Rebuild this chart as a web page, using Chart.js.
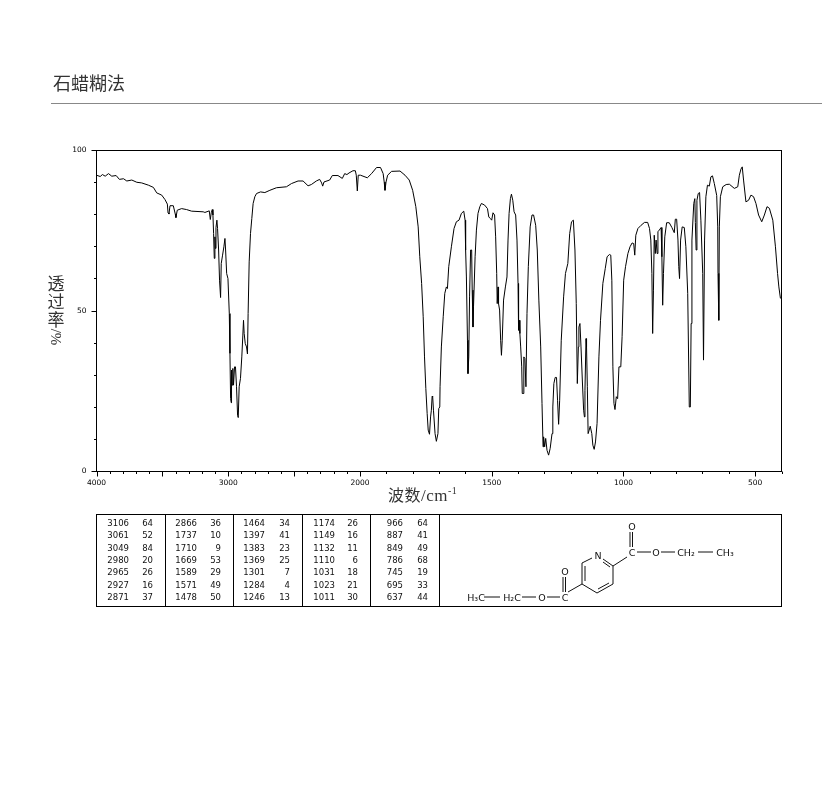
<!DOCTYPE html>
<html>
<head>
<meta charset="utf-8">
<title>石蜡糊法</title>
<script src="https://cdn.jsdelivr.net/npm/chart.js@4"></script>
<style>
  html, body { margin: 0; padding: 0; background: #fff; overflow: hidden; }
  #page { position: relative; width: 822px; height: 794px; overflow: hidden; }
  #page canvas { position: absolute; left: 0; top: 0; }
  .cjk { position: absolute; color: #333; font-family: "Noto Sans CJK SC", serif; white-space: nowrap; }
  #heading { left: 53px; top: 69px; font-size: 18px; line-height: 26px; }
  #rule { position: absolute; left: 51px; top: 103px; width: 771px; height: 1px; background: #888; }
  #ylabel { left: 47px; top: 274px; width: 18px; font-size: 17px; line-height: 18px; text-align: center; }
  #ylabel span { display: block; }
  #ylabel .turn { font-family: "Liberation Serif", serif; font-size: 15px; line-height: 18px; transform: rotate(90deg); transform-origin: 9px 9px; width: 18px; }
  #xlabel { left: 388px; top: 483px; font-size: 16px; line-height: 22px; letter-spacing: 0.5px; }
  #xlabel .latin { font-family: "Liberation Serif", serif; font-size: 17px; }
  #xlabel sup { font-size: 10px; line-height: 0; }
  #peaks { position: absolute; left: 96px; top: 514px; width: 684px; height: 91px; border: 1px solid #000; }
  .sep { position: absolute; top: 0; width: 1px; height: 91px; background: #000; }
  .cell { position: absolute; font: 8.5px/11px "DejaVu Sans", sans-serif; color: #111; text-align: right; }
  svg { position: absolute; left: 0; top: 0; }
  svg text { font-family: "DejaVu Sans", sans-serif; font-size: 9.5px; fill: #111; text-anchor: middle; dominant-baseline: central; }
  svg line { stroke: #111; stroke-width: 1; }
</style>
</head>
<body>
<div id="page">
  <canvas id="spectrum" width="822" height="794"></canvas>
  <div id="heading" class="cjk">石蜡糊法</div>
  <div id="rule"></div>
  <div id="ylabel" class="cjk"><span>透</span><span>过</span><span>率</span><span class="turn">/%</span></div>
  <div id="xlabel" class="cjk">波数<span class="latin">/cm<sup>-1</sup></span></div>
  <div id="peaks"></div>
  <svg width="822" height="794">
    <line x1="630" y1="532" x2="630" y2="547"/><line x1="632.5" y1="532" x2="632.5" y2="547"/>
    <line x1="637" y1="552" x2="651" y2="552"/><line x1="661" y1="552" x2="675" y2="552"/>
    <line x1="698" y1="552" x2="713" y2="552"/>
    <line x1="582" y1="563" x2="592" y2="558"/><line x1="603" y1="559" x2="613" y2="566"/>
    <line x1="603" y1="562" x2="610" y2="567"/>
    <line x1="613" y1="566" x2="613" y2="584"/><line x1="613" y1="584" x2="597" y2="593"/>
    <line x1="609" y1="583" x2="598" y2="589"/>
    <line x1="597" y1="593" x2="582" y2="584"/><line x1="582" y1="584" x2="582" y2="563"/>
    <line x1="585" y1="581" x2="585" y2="566"/>
    <line x1="613" y1="566" x2="627" y2="557"/><line x1="582" y1="584" x2="568" y2="592"/>
    <line x1="563" y1="577" x2="563" y2="592"/><line x1="565.5" y1="577" x2="565.5" y2="592"/>
    <line x1="547" y1="597" x2="560" y2="597"/><line x1="522" y1="597" x2="536" y2="597"/>
    <line x1="484" y1="597" x2="500" y2="597"/>
    <text x="632" y="526">O</text><text x="632" y="552">C</text><text x="656" y="552">O</text>
    <text x="686" y="552">CH₂</text><text x="725" y="552">CH₃</text><text x="598" y="555">N</text>
    <text x="565" y="571">O</text><text x="565" y="597">C</text><text x="542" y="597">O</text>
    <text x="512" y="597">H₂C</text><text x="476" y="597">H₃C</text>
  </svg>
</div>
<script>
var wavenumbers = [
  4000,3972,3955,3934,3909,3884,3851,3826,3795,3770,3732,3694,3657,3606,3568,3543,3505,3480,3462,3457,
  3450,3442,3417,3402,3397,3387,3354,3316,3278,3190,3177,3144,3136,3129,3121,3116,3111,3106,3101,3098,
  3093,3086,3081,3073,3066,3058,3053,3043,3033,3025,3020,3012,3002,2992,2987,2982,2977,2975,2970,2965,
  2960,2952,2945,2937,2929,2924,2917,2907,2897,2889,2884,2879,2871,2861,2854,2849,2841,2831,2821,2811,
  2798,2785,2755,2722,2684,2634,2558,2520,2470,2432,2394,2369,2331,2306,2291,2283,2273,2230,2210,2167,
  2134,2116,2099,2083,2053,2035,2028,2020,2013,1998,1972,1956,1937,1922,1912,1908,1905,1901,1895,1880,
  1848,1829,1813,1800,1788,1779,1773,1766,1760,1755,1750,1745,1741,1736,1732,1729,1726,1724,1721,1715,
  1710,1704,1701,1697,1696,1691,1684,1678,1672,1668,1663,1653,1643,1634,1624,1615,1606,1601,1599,1596,
  1592,1590,1587,1584,1580,1576,1574,1571,1569,1563,1558,1552,1545,1539,1527,1516,1511,1505,1500,1495,
  1489,1485,1481,1479,1476,1474,1470,1466,1463,1460,1455,1448,1442,1438,1434,1429,1425,1420,1415,1409,
  1404,1400,1398,1395,1393,1390,1386,1384,1381,1378,1374,1370,1366,1361,1354,1347,1341,1333,1327,1321,
  1314,1309,1305,1303,1299,1295,1290,1284,1278,1271,1268,1264,1259,1254,1250,1246,1242,1236,1227,1220,
  1211,1204,1197,1190,1184,1179,1175,1171,1169,1165,1161,1156,1151,1148,1146,1142,1140,1137,1134,1130,
  1126,1120,1116,1111,1106,1100,1093,1087,1078,1069,1062,1053,1048,1044,1040,1036,1032,1027,1022,1017,
  1010,1005,999,992,983,975,967,961,957,953,945,933,920,908,901,896,892,889,886,883,
  879,876,872,869,864,857,854,851,848,843,836,826,816,807,803,798,793,790,787,783,
  777,769,763,756,750,746,743,740,733,729,727,724,721,716,711,706,699,696,692,687,
  681,674,668,662,655,646,642,641,638,636,632,623,610,598,579,566,560,554,549,544,
  535,525,516,506,497,487,475,465,455,446,433,423,415,410,404
];
var transmittance = [
  92.3,91.9,92.5,92,92.8,92,92.2,91,91.2,90.5,90.8,90.1,89.9,89.2,88.5,86.8,86.1,84.7,83.3,80.6,
  80.2,82.8,82.8,80.2,79.1,81.4,81.9,81.6,81.1,80.9,80.7,81.2,78.5,80.6,81.6,79.9,74.1,66.4,73.1,69.5,
  76,78.3,75.7,69,59.6,54.2,64.8,67.4,70,72.6,69,61.7,60.1,49.2,36.8,22.7,21.4,31.6,26.9,32.1,
  26.9,32.6,32.6,26.4,17.5,16.8,26.4,29,35.7,42.5,47.1,43,39.9,38.8,36.6,49.2,65.3,74.1,78.8,83.5,
  85.6,86.6,87.1,86.9,87.6,88.4,88.7,89.7,90.5,90.5,89,89.4,90.5,91,89.9,88.9,90.2,90.8,92.2,92.2,
  91.3,92.8,92.5,93,93.7,93.7,92.3,87.4,92.3,92.3,91.5,92.8,94.7,94.7,92.8,90.2,87.6,90.2,92.3,93.5,
  93.6,92.3,90.8,87.6,82.5,76.2,66.9,58.6,48.2,35.7,25.9,18.1,12.9,11.6,17,19.1,23.5,23.3,19.1,11.8,
  9.4,11.8,19.6,20.1,26.4,38.8,48.2,55.5,57.5,57,63.8,70,75.7,77.8,78.3,80.4,81.1,78.3,69,60.6,
  40.9,30.5,35.7,54.4,69,69,56.5,45,51.3,66.9,75.2,80.4,82.5,83.5,83,81.9,79.3,78.8,78.3,80.6,
  79.9,73.1,61.7,52.3,57.5,52.3,50.3,40.9,36.2,40.9,53.4,57.5,60.6,72.1,80.4,85,86.4,84.5,80.9,79.9,
  72.1,58.6,44,47.1,43,38.8,32.6,24.3,24.3,35.7,35.2,26.4,49.2,63.8,76.2,79.9,79.9,76.7,69,53.4,
  38.8,21.2,7.7,10.8,7.7,10.3,6.6,5.1,7.2,11.8,20.1,27.4,29.3,29.3,22.2,14.7,22.2,40.9,54.4,61.7,
  64.8,74.1,77.8,78.3,69,52.3,27.4,38.8,45,46.1,38.8,28.5,19.1,17,25.3,41.4,38.8,26.4,11.8,12.9,
  14.1,11.8,8.2,6.9,9.2,15,35.7,47.1,58.6,63.2,66.9,67.6,67.4,59.6,32.6,21.2,19.3,23.3,22.7,32.6,
  32.6,42,59.6,63.8,67.9,70,71.2,71,67.4,73.6,75.7,76.7,77.6,77.6,75.7,72.1,61.7,43,56.5,73.6,
  67.9,72.1,67.9,74.7,75.2,76,66.9,51.8,61.7,73.1,77.5,77.5,76,74.4,78.6,78.6,72.1,63.8,60.1,72.1,
  76.2,76,70,55.5,20.1,20.1,46.1,72.1,83.5,85,77.6,69,84.5,86.6,86.9,78.3,61.7,34.7,72.1,85.6,
  89.2,88.9,91.8,92.1,89.7,86,76.2,61.7,47.1,76.2,85.6,88.7,89.4,89.5,88.2,88.7,92.3,94.2,94.9,90.8,
  84,84.5,86.1,85.6,83.5,79.9,77.8,79.9,82.5,82,78.3,70,61.7,57.5,53.9
];

var xLabelled = [4000, 3000, 2000, 1500, 1000, 500];
var yLabelled = [0, 50, 100];

var peakWavenumbers = [
  [3106, 3061, 3049, 2980, 2965, 2927, 2871],
  [2866, 1737, 1710, 1669, 1589, 1571, 1478],
  [1464, 1397, 1383, 1369, 1301, 1284, 1246],
  [1174, 1149, 1132, 1110, 1031, 1023, 1011],
  [966, 887, 849, 786, 745, 695, 637]
];
var peakValues = [
  [64, 52, 84, 20, 26, 16, 37],
  [36, 10, 9, 53, 29, 49, 50],
  [34, 41, 23, 25, 7, 4, 13],
  [26, 16, 11, 6, 18, 21, 30],
  [64, 41, 49, 68, 19, 33, 44]
];

// the instrument plots 4000-2000 at half the scale of 2000-400
function toAxis(w) {
  return w >= 2000 ? (4000 - w) / 2 : 1000 + (2000 - w);
}
function fromAxis(u) {
  return u <= 1000 ? 4000 - u * 2 : 3000 - u;
}

var points = [];
for (var i = 0; i < wavenumbers.length; ++i) {
  points.push({x: toAxis(wavenumbers[i]), y: transmittance[i]});
}

var xTicks = [];
for (var w = 4000; w >= 400; w -= 100) xTicks.push(w);

// chart.js has one tick length per axis, these need two, and the frame
var frameAndTicks = {
  id: 'frameAndTicks',
  afterDraw: function(chart) {
    var ctx = chart.ctx;
    var area = chart.chartArea;
    var n, p, len;
    ctx.save();
    ctx.strokeStyle = '#000';
    ctx.lineWidth = 1;
    ctx.strokeRect(area.left, area.top, area.right - area.left, area.bottom - area.top);
    ctx.beginPath();
    for (n = 0; n < xTicks.length; ++n) {
      p = Math.round(chart.scales.x.getPixelForValue(toAxis(xTicks[n]))) + 0.5;
      len = xTicks[n] % 500 === 0 ? 5 : 2.5;
      ctx.moveTo(p, area.bottom);
      ctx.lineTo(p, area.bottom + len);
    }
    for (n = 0; n <= 100; n += 10) {
      p = Math.round(chart.scales.y.getPixelForValue(n) - 0.5) + 0.5;
      len = yLabelled.includes(n) ? 5 : 2.5;
      ctx.moveTo(area.left, p);
      ctx.lineTo(area.left - len, p);
    }
    ctx.stroke();
    ctx.restore();
  }
};

var ctx = document.getElementById('spectrum').getContext('2d');
var chart = new Chart(ctx, {
  type: 'line',
  data: {
    datasets: [{
      data: points,
      borderColor: '#000',
      borderWidth: 1,
      pointRadius: 0,
      tension: 0,
      fill: false
    }]
  },
  options: {
    responsive: false,
    animation: false,
    layout: {padding: {left: 0, top: 150.5, right: 40.5, bottom: 292.5}},
    plugins: {legend: {display: false}, tooltip: {enabled: false}},
    scales: {
      x: {
        type: 'linear',
        min: 0,
        max: toAxis(400),
        grid: {display: false, drawTicks: false},
        border: {display: false},
        afterBuildTicks: function(scale) {
          scale.ticks = xTicks.map(function(t) { return {value: toAxis(t)}; });
        },
        afterFit: function(scale) { scale.height = 30; },
        ticks: {
          autoSkip: false,
          maxRotation: 0,
          padding: 7,
          color: '#000',
          font: {family: 'DejaVu Sans', size: 7.5},
          callback: function(value) {
            var t = Math.round(fromAxis(value));
            return xLabelled.includes(t) ? String(t) : '';
          }
        }
      },
      y: {
        min: 0,
        max: 100,
        grid: {display: false, drawTicks: false},
        border: {display: false},
        afterFit: function(scale) { scale.width = 96.5; },
        ticks: {
          stepSize: 10,
          autoSkip: false,
          padding: 10,
          color: '#000',
          font: {family: 'DejaVu Sans', size: 7.5},
          callback: function(value) {
            return yLabelled.includes(value) ? String(value) : '';
          }
        }
      }
    }
  },
  plugins: [frameAndTicks]
});

// peak table, columns are laid out from the arrays above
var peaksBox = document.getElementById('peaks');
var sepLeft = [68, 136, 205, 273, 342];
var wnRight = [32, 100, 168, 238, 306];
var valRight = [56, 124, 193, 261, 331];

function addCell(text, right, rowTop) {
  var d = document.createElement('div');
  d.className = 'cell';
  d.textContent = text;
  d.style.width = '40px';
  d.style.left = (right - 40) + 'px';
  d.style.top = rowTop + 'px';
  peaksBox.appendChild(d);
}

for (var c = 0; c < peakWavenumbers.length; ++c) {
  var sep = document.createElement('div');
  sep.className = 'sep';
  sep.style.left = sepLeft[c] + 'px';
  peaksBox.appendChild(sep);
  for (var r = 0; r < peakWavenumbers[c].length; ++r) {
    var rowTop = 3 + r * 12.33;
    addCell(String(peakWavenumbers[c][r]), wnRight[c], rowTop);
    addCell(String(peakValues[c][r]), valRight[c], rowTop);
  }
}
</script>
</body>
</html>
